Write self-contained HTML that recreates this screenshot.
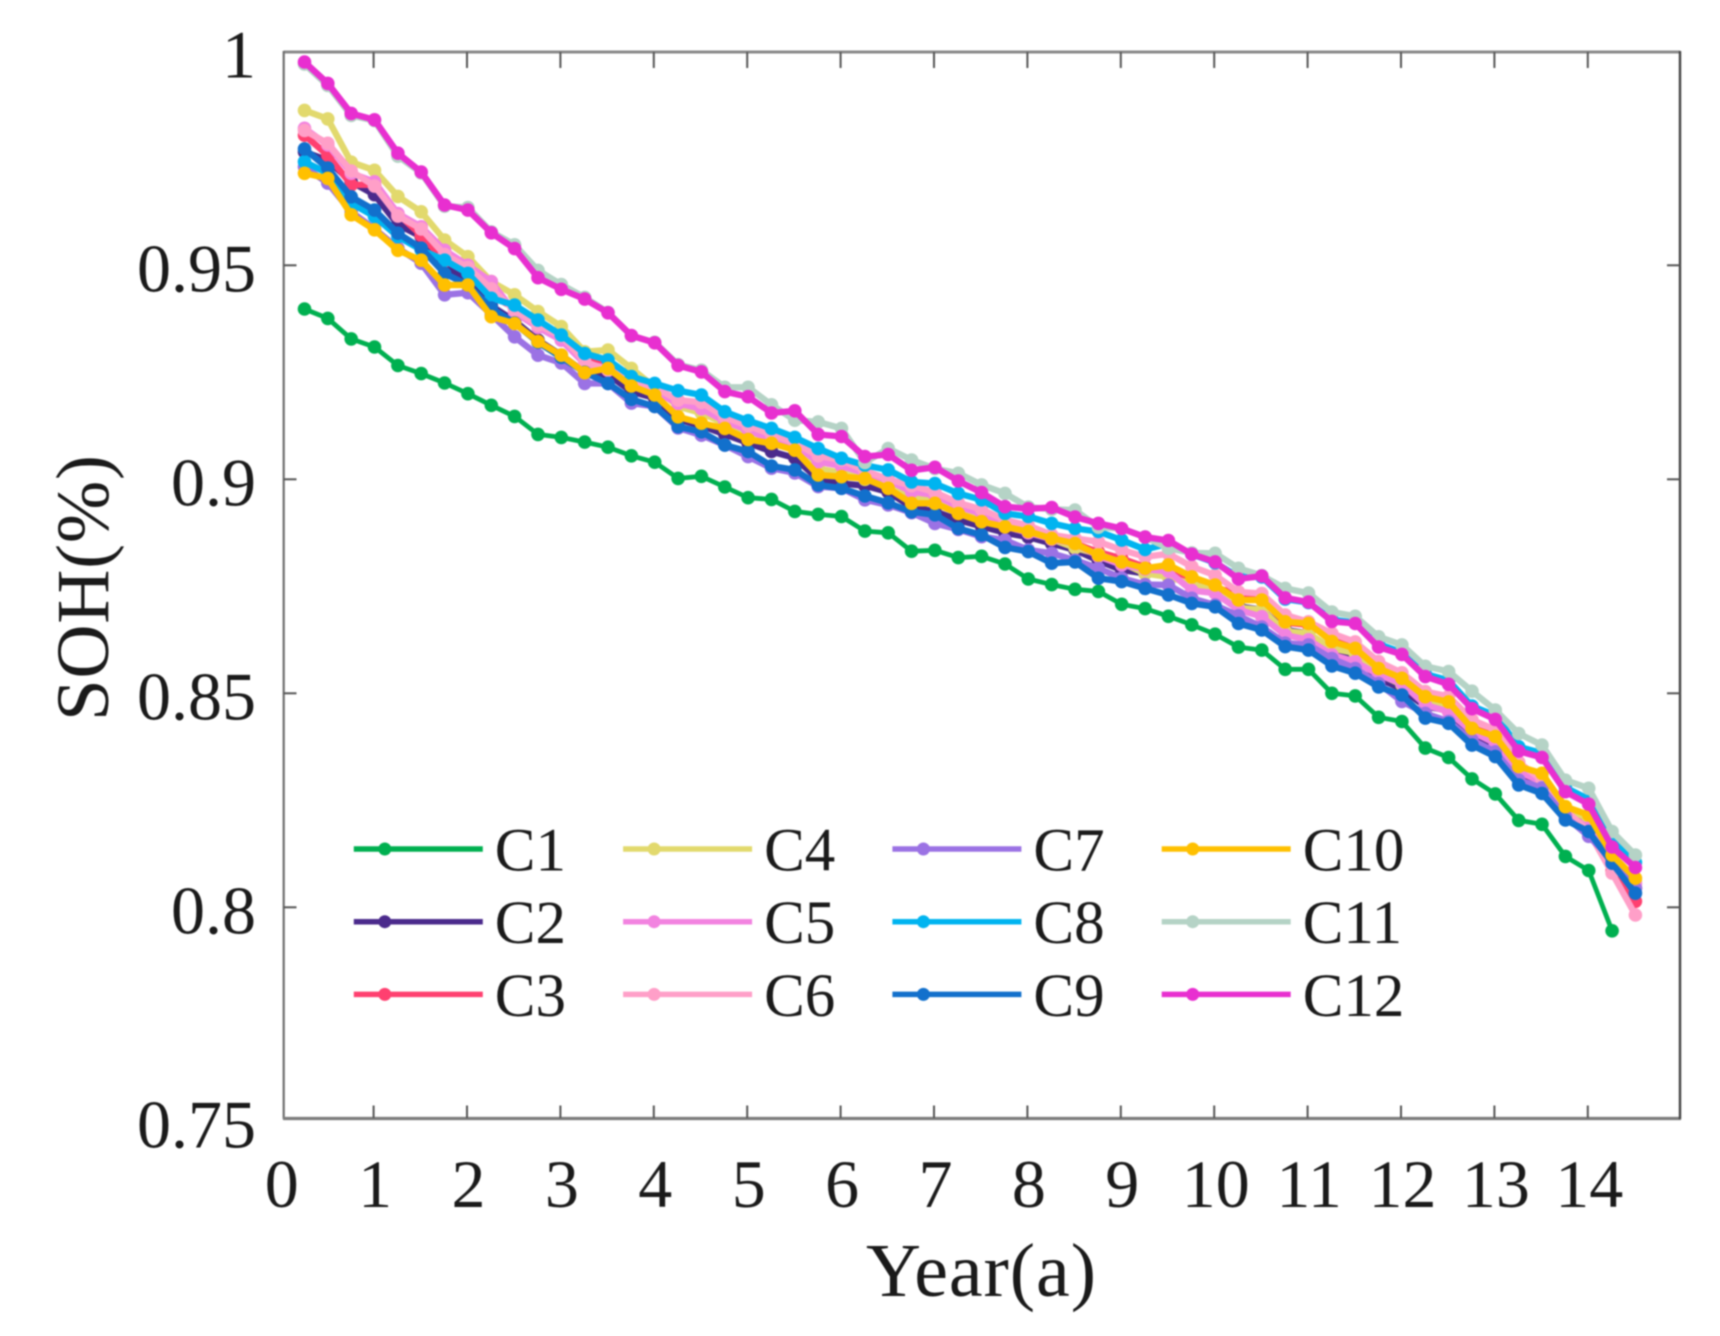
<!DOCTYPE html>
<html lang="en">
<head>
<meta charset="utf-8">
<title>SOH vs Year</title>
<style>
html,body{margin:0;padding:0;background:#fff;width:1720px;height:1336px;overflow:hidden}
svg{display:block;filter:blur(0.7px)}
text{font-family:"Liberation Serif","Times New Roman",serif;fill:#1a1a1a}
</style>
</head>
<body>
<svg id="chart" xmlns="http://www.w3.org/2000/svg" width="1720" height="1336" viewBox="0 0 1720 1336">
  <rect x="0" y="0" width="1720" height="1336" fill="#ffffff"/>
  <g id="series-layer"></g>
  <g id="axes-layer">
    <line x1="283.7" y1="52" x2="1680" y2="52" stroke="#8a8a8a" stroke-width="3"/>
    <line x1="283.7" y1="51" x2="283.7" y2="1119" stroke="#6e6e6e" stroke-width="2.2"/>
    <line x1="283" y1="1118.5" x2="1681" y2="1118.5" stroke="#7c7c7c" stroke-width="3.2"/>
    <line x1="1680" y1="51" x2="1680" y2="1119" stroke="#444444" stroke-width="2.4"/>
  </g>
  <g id="ticks-layer"></g>
  <g id="legend-layer"></g>
  <text x="866" y="1296" font-size="76" textLength="230">Year(a)</text>
  <text transform="translate(108,721) rotate(-90)" x="0" y="0" font-size="75" textLength="266">SOH(%)</text>
</svg>
<script>
const years = [0.26,0.51,0.76,1.01,1.26,1.51,1.76,2.01,2.26,2.51,2.76,3.01,3.26,3.51,3.76,4.01,4.26,4.51,4.76,5.01,5.26,5.51,5.76,6.01,6.26,6.51,6.76,7.01,7.26,7.51,7.76,8.01,8.26,8.51,8.76,9.01,9.26,9.51,9.76,10.01,10.26,10.51,10.76,11.01,11.26,11.51,11.76,12.01,12.26,12.51,12.76,13.01,13.26,13.51,13.76,14.01,14.26,14.51];
const xTickValues = [0,1,2,3,4,5,6,7,8,9,10,11,12,13,14];
const xTickLabels = ["0","1","2","3","4","5","6","7","8","9","10","11","12","13","14"];
const yTickValues = [1,0.95,0.9,0.85,0.8,0.75];
const yTickLabels = ["1","0.95","0.9","0.85","0.8","0.75"];
const seriesNames = ["C1","C2","C3","C4","C5","C6","C7","C8","C9","C10","C11","C12"];
const seriesColors = ["#00b050","#4b2a8c","#ff4070","#e2d96d","#f283e0","#ff9fc8","#9b72e4","#00b4f0","#1270cc","#ffc000","#b5d3c6","#e82fd0"];

const c1 = [.9398,.9376,.9328,.9309,.9266,.9247,.9225,.92,.9173,.9147,.9105,.9098,.9087,.9075,.9055,.904,.9002,.9007,.8982,.8957,.8953,.8925,.8918,.8913,.8879,.8875,.8832,.8834,.8817,.882,.8802,.8767,.8754,.8743,.8738,.8708,.8698,.868,.866,.8638,.8608,.8601,.8556,.8556,.85,.8494,.8444,.8434,.8372,.835,.83,.8265,.8203,.8194,.8119,.8086,.7945];
const c2 = [.9765,.9745,.9695,.9665,.9595,.9567,.9495,.9465,.9405,.937,.9325,.929,.925,.9245,.9205,.919,.914,.9125,.9105,.9085,.9065,.905,.9,.899,.8985,.897,.8935,.8925,.8905,.889,.8875,.8865,.885,.8835,.881,.8788,.878,.878,.8755,.874,.8703,.8695,.8648,.864,.86,.8585,.8535,.851,.8469,.846,.84,.838,.8312,.8295,.822,.82,.81,.8045];
const c3 = [.9804,.9757,.9688,.9688,.962,.957,.951,.9485,.943,.94,.9365,.933,.9285,.9265,.9225,.921,.9178,.916,.913,.9105,.909,.907,.905,.9035,.9015,.8994,.898,.8955,.8935,.892,.8895,.8885,.886,.885,.883,.8815,.8795,.879,.8755,.8745,.8735,.872,.8665,.866,.8632,.861,.856,.8535,.8495,.848,.842,.84,.8315,.8295,.823,.819,.8085,.8014];
const c4 = [.9862,.9842,.9741,.9722,.9661,.9625,.9559,.952,.9462,.9431,.9392,.9357,.9298,.9302,.9259,.9215,.917,.9155,.913,.9105,.9085,.907,.9025,.9015,.9,.8985,.896,.895,.8925,.891,.889,.888,.886,.884,.8825,.8805,.878,.8772,.8755,.874,.87,.8695,.8645,.864,.8605,.8594,.8545,.852,.8485,.847,.841,.8395,.8325,.8305,.8235,.8205,.812,.8062];
const c5 = [.982,.9781,.9715,.9695,.9621,.959,.9535,.95,.9462,.939,.9355,.9325,.927,.926,.9225,.9205,.9177,.9165,.9135,.9115,.9092,.908,.9041,.9031,.9014,.8998,.8971,.8963,.8936,.892,.889,.8875,.886,.885,.882,.88,.879,.8785,.874,.8734,.8695,.8679,.8636,.8625,.859,.8574,.8543,.8523,.8473,.8457,.841,.8383,.8317,.8293,.822,.8185,.8112,.8055];
const c6 = [.9815,.9785,.972,.9685,.9615,.9585,.9525,.9495,.9445,.9395,.936,.9335,.9275,.9255,.923,.9215,.9185,.918,.9145,.9125,.9105,.9085,.9055,.9045,.902,.9,.8985,.897,.8945,.893,.8905,.8892,.887,.8862,.8854,.8835,.8819,.8826,.8796,.8776,.8737,.8733,.8683,.8667,.864,.862,.8574,.8548,.8504,.8493,.8438,.8415,.8339,.8297,.8227,.8177,.808,.7982];
const c7 = [.973,.9692,.9625,.9585,.954,.9505,.9431,.9436,.9385,.9333,.929,.9272,.9224,.9224,.9178,.917,.912,.9103,.908,.9053,.9026,.9015,.8983,.8979,.8952,.894,.8922,.8897,.8883,.8866,.8858,.8835,.8827,.8811,.8792,.8769,.8754,.8753,.8722,.8706,.8681,.8655,.8617,.8613,.8581,.8558,.8523,.8481,.8453,.8434,.8391,.8363,.8297,.8279,.8212,.8166,.8111,.8044];
const c8 = [.9742,.9715,.9645,.9614,.9567,.9536,.9512,.9481,.9423,.9407,.9372,.9337,.9294,.9279,.924,.9224,.9207,.9197,.9158,.9137,.9119,.9098,.9072,.9049,.9033,.9022,.8994,.899,.8967,.8952,.892,.8913,.8897,.8885,.8878,.8858,.8836,.885,.8825,.8805,.8772,.8772,.872,.8712,.8672,.8665,.8615,.8595,.8545,.853,.847,.8448,.8375,.836,.828,.8252,.8155,.8105];
const c9 = [.9772,.9727,.966,.9629,.9575,.954,.9481,.9454,.94,.9365,.932,.9285,.925,.9224,.9187,.917,.9123,.9111,.908,.9065,.9031,.9022,.8987,.8979,.8961,.8945,.8924,.8917,.8885,.887,.8841,.8831,.8804,.8807,.8769,.8761,.8745,.873,.871,.8702,.8663,.8648,.8609,.8601,.8564,.8547,.8515,.8496,.8442,.843,.8379,.8352,.8286,.8266,.8204,.8177,.8103,.8033];
const c10 = [.9715,.9703,.9618,.9583,.9535,.9512,.9454,.9454,.938,.9364,.9322,.929,.9249,.9259,.9218,.9197,.9146,.9131,.9119,.9093,.9084,.9068,.901,.9006,.9002,.8979,.8944,.8944,.892,.8901,.8889,.8878,.8862,.885,.8823,.8807,.8792,.88,.8772,.8753,.8718,.8718,.8667,.8663,.8621,.8605,.8558,.8535,.8492,.848,.8418,.8399,.8329,.8313,.8235,.8216,.8122,.8068];
const c11 = [.9970,.992,.985,.9838,.9755,.9716,.9638,.9635,.9578,.9548,.9488,.9455,.9425,.939,.9335,.932,.9268,.9255,.9215,.9215,.9174,.9138,.9134,.9119,.9039,.9072,.9045,.9025,.9014,.8987,.8967,.8935,.893,.8928,.8888,.8885,.8865,.8839,.8828,.8827,.8792,.8775,.8745,.8734,.869,.868,.8632,.8613,.8563,.8551,.8505,.8461,.8406,.8379,.8297,.8278,.8177,.8122];
const c12 = [.9975,.9925,.9855,.984,.9762,.9718,.9641,.9629,.9576,.9539,.9471,.9444,.9421,.9389,.9336,.9319,.9266,.9251,.9205,.9193,.9155,.916,.9105,.91,.9053,.9058,.9021,.9028,.8996,.8969,.8936,.8931,.8934,.8912,.8897,.8885,.8865,.8857,.8825,.8807,.8767,.8774,.8723,.8713,.8668,.8663,.8608,.8591,.8539,.8521,.8464,.8439,.8365,.835,.827,.8241,.8141,.8093];
const allSeries = [c1,c2,c3,c4,c5,c6,c7,c8,c9,c10,c11,c12];

const NS = "http://www.w3.org/2000/svg";
function xScale(year){ return 280.2 + 93.4 * year; }
function yScale(v){ return 479.3 + (0.9 - v) * 4280; }

const seriesLayer = document.getElementById("series-layer");
allSeries.forEach(function(values, s){
  const group = document.createElementNS(NS, "g");
  
  
  const line = document.createElementNS(NS, "polyline");
  
  
  line.setAttribute("points", values.map(function(v, i){ return xScale(years[i]).toFixed(1) + "," + yScale(v).toFixed(1); }).join(" "));
  line.setAttribute("fill", "none");
  line.setAttribute("stroke", seriesColors[s]);
  line.setAttribute("stroke-width", s === 0 ? "4.8" : "6.4");
  line.setAttribute("stroke-linejoin", "round");
  group.appendChild(line);
  values.forEach(function(v, i){
    const dot = document.createElementNS(NS, "circle");
    
    
    dot.setAttribute("cx", xScale(years[i]).toFixed(1));
    dot.setAttribute("cy", yScale(v).toFixed(1));
    dot.setAttribute("r", "6.8");
    dot.setAttribute("fill", seriesColors[s]);
    group.appendChild(dot);
  });
  seriesLayer.appendChild(group);
});

const ticksLayer = document.getElementById("ticks-layer");
function addTick(x1, y1, x2, y2, name){
  const t = document.createElementNS(NS, "line");
  
  
  t.setAttribute("x1", x1);
  t.setAttribute("y1", y1);
  t.setAttribute("x2", x2);
  t.setAttribute("y2", y2);
  t.setAttribute("stroke", "#555555");
  t.setAttribute("stroke-width", "2");
  ticksLayer.appendChild(t);
}
function addLabel(x, y, anchor, str, name){
  const t = document.createElementNS(NS, "text");
  
  
  t.setAttribute("x", x);
  t.setAttribute("y", y);
  t.setAttribute("text-anchor", anchor);
  t.setAttribute("font-size", "68");
  t.textContent = str;
  ticksLayer.appendChild(t);
}
xTickValues.forEach(function(v, i){
  const x = xScale(v);
  if (v > 0) {
    addTick(x, 1118, x, 1105.5, 'x-tick-bottom');
    addTick(x, 52, x, 68, 'x-tick-top');
  }
  addLabel(x + 1.5, 1207, "middle", xTickLabels[i], 'x-tick-label');
});
yTickValues.forEach(function(v, i){
  const y = yScale(v);
  if (v < 1 && v > 0.76) {
    addTick(283.7, y, 296.5, y, 'y-tick-left');
    addTick(1680, y, 1667, y, 'y-tick-right');
  }
  addLabel(256, y + 26, "end", yTickLabels[i], 'y-tick-label');
});

const legendLayer = document.getElementById("legend-layer");
seriesNames.forEach(function(name, s){
  const col = Math.floor(s / 3);
  const row = s % 3;
  const left = 353.8 + col * 269.3;
  const cy = 849 + row * 72.7;
  const entry = document.createElementNS(NS, "g");
  
  
  const swatch = document.createElementNS(NS, "line");
  
  
  swatch.setAttribute("x1", left);
  swatch.setAttribute("y1", cy);
  swatch.setAttribute("x2", left + 129);
  swatch.setAttribute("y2", cy);
  swatch.setAttribute("stroke", seriesColors[s]);
  swatch.setAttribute("stroke-width", "5.5");
  entry.appendChild(swatch);
  const dot = document.createElementNS(NS, "circle");
  
  
  dot.setAttribute("cx", left + 31);
  dot.setAttribute("cy", cy);
  dot.setAttribute("r", "6.5");
  dot.setAttribute("fill", seriesColors[s]);
  entry.appendChild(dot);
  const label = document.createElementNS(NS, "text");
  
  
  label.setAttribute("x", left + 141);
  label.setAttribute("y", cy + 21.5);
  label.setAttribute("font-size", "61");
  label.textContent = name;
  entry.appendChild(label);
  legendLayer.appendChild(entry);
});
</script>
</body>
</html>
